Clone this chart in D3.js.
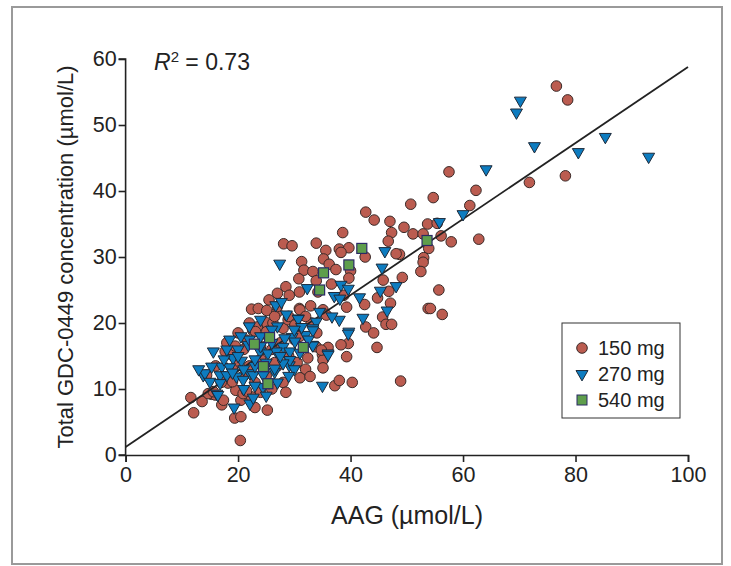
<!DOCTYPE html>
<html><head><meta charset="utf-8">
<script src="https://cdn.jsdelivr.net/npm/d3@7"></script>
<style>body{margin:0;background:#fff}svg{display:block}text{font-family:"Liberation Sans",Arial,Helvetica,sans-serif;fill:#222}</style>
</head><body><svg id="c" width="731" height="566"></svg>
<script>
const xTicks = [0,20,40,60,80,100];
const yTicks = [0,10,20,30,40,50,60];
const seriesNames = ["150 mg","270 mg","540 mg"];
const fit = [[0,1.2],[100,58.8]];
const rSquared = "0.73";

const dose150 = [
[76.6,55.9],[78.6,53.8],[57.5,42.9],[62.3,40.1],[71.8,41.3],[78.2,42.3],[61.2,37.8],[54.7,39.0],[50.7,38.0],[49.5,34.5],[53.7,35.0],[55.4,35.1],[51.1,33.5],[52.9,33.5],[56.1,33.2],[57.9,32.3],[62.8,32.7],[53.9,31.3],[53.0,29.9],[52.9,29.2],[52.5,27.8],[49.2,26.9],[55.7,25.0],[48.7,30.4],
[42.7,36.8],[44.2,35.6],[47.0,35.4],[38.6,33.7],[47.3,33.7],[46.7,32.4],[28.1,32.0],[29.6,31.7],[33.9,32.1],[38.0,31.2],[39.7,31.4],[38.3,30.7],[35.6,31.0],[42.6,30.0],[48.1,30.5],[31.3,29.3],[35.2,29.7],[36.2,28.9],[31.7,28.0],[33.3,27.8],[37.4,28.1],[40.0,27.9],[30.8,26.7],[33.9,26.4],[39.7,26.8],[45.8,26.5],[28.5,25.5],[36.6,25.9],[29.1,24.2],[34.2,24.7],[38.8,24.2],[44.8,23.8],[46.8,24.8],[53.8,22.2],[54.2,22.2],[56.3,21.3],[39.3,22.4],[42.5,22.8],[47.1,23.0],[30.9,22.2],[32.9,22.6],[35.1,22.0],[45.7,20.9],[42.7,19.4],[44.1,18.5],[46.3,19.8],[47.3,19.8],[39.6,16.9],[38.3,16.7],[44.7,16.3],[36.0,16.3],[39.3,14.9],[35.0,15.2],[48.9,11.2],
[20.4,2.2],[12.1,6.4],[11.6,8.7],[13.6,8.1],[19.4,5.6],[20.5,5.8],[25.2,6.8],[23.0,7.2],[17.1,7.6],[15.3,9.2],[17.4,8.3],[20.5,8.3],[22.4,8.8],[19.6,9.8],[20.9,9.3],[15.9,9.1],[14.7,9.3],[15.6,9.6],[18.2,10.9],[19.0,11.1],[21.5,9.7],[14.4,12.1],
[22.4,22.1],[23.6,22.2],[25.1,21.9],[26.9,21.6],[22.6,18.9],[24.9,20.1],[26.2,20.0],[28.0,19.2],[30.6,19.4],[35.7,21.2],[33.9,16.4],[32.4,14.7],[35.1,14.4],[35.1,13.2],[32.0,13.0],[31.0,11.7],[32.8,11.9],[37.2,10.5],[38.0,11.3],[40.3,11.0],[25.1,18.2],[23.4,19.4],[23.1,18.7],[25.1,18.7],[21.5,17.4],[17.7,15.7],[18.8,15.2],[30.9,24.7],[31.0,22.0],[26.5,21.0],[28.9,20.5],[30.1,19.7],[34.8,15.9],
[20,14],[22,13.5],[24,14.5],[26,16],[27.5,17],[19,13],[21,16],[23,11],[25,12],[27,13.5],[29,15],[30,17.5],[28,11],[26,10],[24,9.5],[17,11],[16,13.5],[18,17],[20,18.5],[22,20],[27,22.5],[29,21],[31,18],[33,20],[24,16.5],[21,12],[26.5,14],[28.5,9.5],[30.5,14],[19.5,16.5],[25.5,23.5],[27,24.5],[32,21],[34,18.5]
];

const dose270 = [
[70.2,53.7],[69.5,51.9],[72.7,46.8],[64.1,43.3],[80.5,45.9],[85.3,48.2],[93.0,45.2],[60.0,36.5],[55.8,35.3],
[46.1,30.9],[45.6,28.4],[48.1,25.6],[45.3,24.9],[32.3,25.3],[38.3,25.8],[39.6,25.2],[41.6,23.9],[37.1,24.1],[38.1,23.7],[46.5,21.9],[42.2,20.8],[39.7,18.7],[38.0,20.5],[36.7,21.0],[34.5,21.7],[27.4,29.0],[33.9,20.2],[30.7,20.7],[33.3,19.2],[32.0,18.2],[33.2,16.7],[36.0,15.4],
[26.7,22.7],[27.7,23.2],[28.6,21.3],[30.7,20.6],[35.0,10.5],[15.6,15.7],[13.8,12.1],[19.3,7.2],[22.1,7.8],[22.7,8.7],[24.4,10.3],[16.2,9.3],[29.1,13.6],[33.3,16.6],[29.6,17.9],[21.8,16.7],[23.9,15.7],[25.3,15.4],[19.1,14.7],[20.6,14.3],[17.1,13.4],[18.5,13.3],[14.1,12.4],[16.8,12.1],[22.1,12.4],[26.5,12.6],[16.4,9.1],[15.0,11.1],[18.0,12.1],[19.7,11.9],[20.9,11.4],[22.7,12.1],[24.5,12.1],[16.8,10.9],[31.3,19.4],[33.3,18.9],[28.3,17.7],[30.1,17.2],[28.0,16.4],[29.2,15.7],[26.8,15.7],[36.0,15.2],[39.6,18.4],[29.2,14.4],[28.0,13.9],[26.5,13.1],[15.3,13.4],
[20,16],[22,17.5],[24,18],[26,17],[27,19.5],[25,14],[23,13.5],[21,13],[19,12.5],[17.5,14.5],[18,16],[20,15],[24,16.5],[27.5,15],[23,10.5],[21,10],[25.5,11],[27,11],[30,13],[31,15.5],[32.5,17.5],[30,19],[22,19.5],[24,20.5],[20.5,18],[18.5,17.5],[26,19],[23,14.5],[29,12],[25,9],[13,13]
];

const dose540 = [
[42.0,31.3],[39.7,28.8],[35.2,27.6],[34.5,25.0],[31.6,16.3],[25.6,17.8],[22.9,16.8],[24.5,13.4],[25.3,10.8],[53.6,32.5]
];

const colors = {c:"#bb5c50", t:"#0d7cc0", s:"#5e9e4c"};
const svg = d3.select("#c");

// frame
svg.append("rect").attr("x",12).attr("y",7).attr("width",710).attr("height",557)
  .attr("fill","none").attr("stroke","#9a9a9a").attr("stroke-width",2);

const x = d3.scaleLinear().domain([0,100]).range([125.6,688]);
const y = d3.scaleLinear().domain([0,60]).range([455,59]);

const xAxis = svg.append("g").attr("transform","translate(0,455)")
  .call(d3.axisBottom(x).tickValues(xTicks).tickSize(7).tickPadding(5).tickFormat(d3.format("d")));
const yAxis = svg.append("g").attr("transform","translate(125.6,0)")
  .call(d3.axisLeft(y).tickValues(yTicks).tickSize(7).tickPadding(2).tickFormat(d3.format("d")));
[xAxis,yAxis].forEach(g=>{
  g.select(".domain").attr("stroke","#222").attr("stroke-width",1.6);
  g.selectAll(".tick line").attr("stroke","#222").attr("stroke-width",1.6);
  g.selectAll(".tick text").attr("font-size",21.5).attr("fill","#222")
   .attr("font-family","'Liberation Sans',Arial,sans-serif");
});
yAxis.select(".domain").attr("d","M-7,59H0V455H-7");

// labels
svg.append("text").attr("x",407).attr("y",524).attr("text-anchor","middle")
  .attr("font-size",25).text("AAG (µmol/L)");
svg.append("text").attr("transform","translate(73,257) rotate(-90)").attr("text-anchor","middle")
  .attr("font-size",22).text("Total GDC-0449 concentration (µmol/L)");
const r2 = svg.append("text").attr("x",154).attr("y",70).attr("font-size",23);
r2.append("tspan").attr("font-style","italic").text("R");
r2.append("tspan").attr("font-size",15).attr("dy",-8).text("2");
r2.append("tspan").attr("dy",8).text(" = " + rSquared);

svg.append("g").selectAll("circle").data(dose150).join("circle")
  .attr("cx",d=>x(d[0])).attr("cy",d=>y(d[1])).attr("r",5.3)
  .attr("fill",colors.c).attr("stroke","#3a2a28").attr("stroke-width",1);

// regression line
svg.append("line").attr("x1",x(fit[0][0])).attr("y1",y(fit[0][1]))
  .attr("x2",x(fit[1][0])).attr("y2",y(fit[1][1])).attr("stroke","#222").attr("stroke-width",1.8);

const tri = d3.symbol().type(d3.symbolTriangle).size(62);
svg.append("g").selectAll("path").data(dose270).join("path")
  .attr("d",tri).attr("transform",d=>`translate(${x(d[0])},${y(d[1])}) rotate(180)`)
  .attr("fill",colors.t).attr("stroke","#1d2a3a").attr("stroke-width",1);

svg.append("g").selectAll("rect").data(dose540).join("rect")
  .attr("x",d=>x(d[0])-5).attr("y",d=>y(d[1])-5).attr("width",10).attr("height",10)
  .attr("fill",colors.s).attr("stroke","#2b2a66").attr("stroke-width",1.2);

// legend
const lg = svg.append("g");
lg.append("rect").attr("x",562).attr("y",323).attr("width",118).attr("height",95)
  .attr("fill","#fff").attr("stroke","#333").attr("stroke-width",1);
const ly = [348,374,400];
lg.append("circle").attr("cx",582).attr("cy",ly[0]).attr("r",5.3).attr("fill",colors.c).attr("stroke","#3a2a28");
lg.append("path").attr("d",tri).attr("transform",`translate(582,${ly[1]}) rotate(180)`).attr("fill",colors.t).attr("stroke","#1d2a3a");
lg.append("rect").attr("x",577).attr("y",ly[2]-5).attr("width",10).attr("height",10).attr("fill",colors.s).attr("stroke","#2b2a66");
seriesNames.forEach((n,i)=>{
  lg.append("text").attr("x",598).attr("y",ly[i]+7).attr("font-size",20).text(n);
});
</script></body></html>
